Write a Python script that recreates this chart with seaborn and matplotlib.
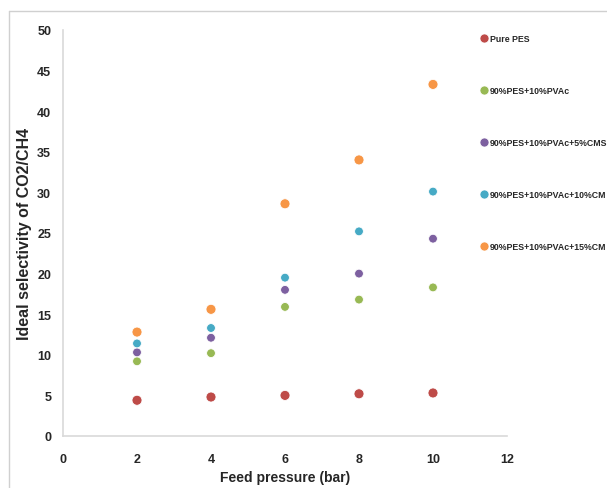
import matplotlib
matplotlib.use('agg')
import matplotlib.pyplot as plt
from matplotlib.lines import Line2D
import seaborn as sns
import pandas as pd

# Feed pressure (bar)
pressure = [2, 4, 6, 8, 10]

# Ideal selectivity CO2/CH4 per membrane
pure_pes = [4.4, 4.8, 5.0, 5.2, 5.3]
pes_pvac = [9.2, 10.2, 15.9, 16.8, 18.3]
pes_pvac_5cms = [10.3, 12.1, 18.0, 20.0, 24.3]
pes_pvac_10cm = [11.4, 13.3, 19.5, 25.2, 30.1]
pes_pvac_15cm = [12.8, 15.6, 28.6, 34.0, 43.3]

labels = ['Pure PES', '90%PES+10%PVAc', '90%PES+10%PVAc+5%CMS',
          '90%PES+10%PVAc+10%CM', '90%PES+10%PVAc+15%CM']
colors = ['#BE4B48', '#98B954', '#7D60A0', '#46AAC5', '#F79646']
marker_sizes = [52, 40, 40, 40, 52]

series = [pure_pes, pes_pvac, pes_pvac_5cms, pes_pvac_10cm, pes_pvac_15cm]
rows = []
for lab, vals in zip(labels, series):
    for p, v in zip(pressure, vals):
        rows.append({'pressure': p, 'selectivity': v, 'membrane': lab})
df = pd.DataFrame(rows)

sns.set_style('white')
plt.rcParams['font.family'] = ['Liberation Sans', 'DejaVu Sans']
plt.rcParams['font.weight'] = 'bold'

fig = plt.figure(figsize=(6.07, 4.89), dpi=100)
ax = fig.add_axes([63 / 607, 1 - 437 / 489, (507 - 63) / 607, (437 - 31) / 489])

sns.scatterplot(data=df, x='pressure', y='selectivity', hue='membrane',
                size='membrane', sizes=dict(zip(labels, marker_sizes)),
                palette=colors, hue_order=labels, edgecolor='white',
                linewidth=0.6, ax=ax, legend=False)

ax.set_xlim(0, 12)
ax.set_ylim(0, 50)
ax.set_xticks(range(0, 13, 2))
ax.set_yticks(range(0, 51, 5))
ax.tick_params(axis='y', labelsize=9, length=0, pad=8.5)
ax.tick_params(axis='x', labelsize=9, length=0, pad=12)
for t in ax.get_xticklabels() + ax.get_yticklabels():
    t.set_fontweight('bold')
ax.set_xlabel('Feed pressure (bar)', fontsize=10, fontweight='bold')
ax.set_ylabel('Ideal selectivity of CO2/CH4', fontsize=11.5, fontweight='bold')
ax.xaxis.set_label_coords(0.5, -(478 - 437) / 406, transform=ax.transAxes)
ax.xaxis.label.set_va('center')
ax.yaxis.set_label_coords(-(63 - 25) / 444, 0.5, transform=ax.transAxes)
ax.yaxis.label.set_va('center')

for side in ['top', 'right']:
    ax.spines[side].set_visible(False)
for side in ['left', 'bottom']:
    ax.spines[side].set_color('#D9D9D9')
    ax.spines[side].set_linewidth(1.2)

handles = [Line2D([], [], marker='o', linestyle='', markersize=6.5,
                  markerfacecolor=c, markeredgecolor='white', markeredgewidth=0.5)
           for c in colors]
fig.legend(handles, labels, loc='upper left', bbox_to_anchor=(476 / 607, 1 - 32 / 489),
           frameon=False, labelspacing=4.9, handletextpad=0.15,
           handlelength=1.0, borderaxespad=0, prop={'weight': 'bold', 'size': 6.3})

# outer chart frame (top and left edges visible in the crop)
fig.add_artist(Line2D([9 / 607, 1], [1 - 12 / 489, 1 - 12 / 489], color='#D0D0D0', lw=1))
fig.add_artist(Line2D([9 / 607, 9 / 607], [0, 1 - 12 / 489], color='#D0D0D0', lw=1))

fig.savefig('out.png', dpi=100)
